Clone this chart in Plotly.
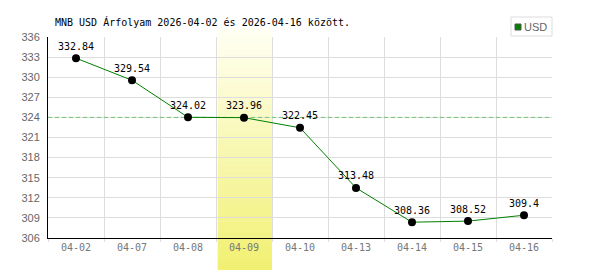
import plotly.graph_objects as go

dates = ["04-02", "04-07", "04-08", "04-09", "04-10", "04-13", "04-14", "04-15", "04-16"]
values = [332.84, 329.54, 324.02, 323.96, 322.45, 313.48, 308.36, 308.52, 309.4]
value_labels = ["332.84", "329.54", "324.02", "323.96", "322.45", "313.48", "308.36", "308.52", "309.4"]
reference_level = 324
highlight_date = "04-09"
y_ticks = list(range(306, 337, 3))
title_text = "MNB USD Árfolyam 2026-04-02 és 2026-04-16 között."
series_name = "USD"

W, H = 600, 270
ML, MR, MT, MB = 48, 48, 37, 32
plot_h = H - MT - MB

mono = "DejaVu Sans Mono"
sans = "Liberation Sans"

fig = go.Figure()

fig.add_trace(go.Scatter(
    x=dates, y=values, mode="lines+markers+text",
    line=dict(color="#008000", width=1),
    marker=dict(color="black", size=8),
    text=value_labels, textposition="top center",
    textfont=dict(family=mono, size=10, color="black"),
    cliponaxis=False, showlegend=False, name=series_name,
))

shapes = []
# reference dashed line (below the highlight band)
shapes.append(dict(type="line", xref="x", yref="y", x0=-0.5, x1=len(dates) - 0.5,
                   y0=reference_level, y1=reference_level,
                   line=dict(color="rgb(110,195,110)", width=1, dash="4px,3px"), layer="between"))

# highlight band with vertical gradient (strips)
hi = dates.index(highlight_date)
bx0, bx1 = hi - 0.47, hi + 0.50
ytop = 1 + (MT - 28) / plot_h
ybot = -(H - MT - plot_h) / plot_h - 0.01
n = 48
c_top = (255, 255, 244)
c_bot = (241, 240, 112)
for i in range(n):
    t0 = i / n
    t1 = (i + 1) / n
    tm = (i + 0.5) / n
    r = round(c_top[0] + (c_bot[0] - c_top[0]) * tm)
    g = round(c_top[1] + (c_bot[1] - c_top[1]) * tm)
    b = round(c_top[2] + (c_bot[2] - c_top[2]) * tm)
    y1 = ytop - (ytop - ybot) * t0
    y0 = ytop - (ytop - ybot) * t1 - 0.002
    shapes.append(dict(type="rect", xref="x", yref="paper", x0=bx0, x1=bx1, y0=y0, y1=y1,
                       fillcolor=f"rgb({r},{g},{b})", line=dict(width=0), layer="between"))

# legend box
shapes.append(dict(type="rect", xref="paper", yref="paper", xanchor=1, yanchor=1,
                   xsizemode="pixel", ysizemode="pixel", x0=-41, x1=0, y0=1, y1=20,
                   line=dict(color="#dddddd", width=1), fillcolor="white"))
shapes.append(dict(type="rect", xref="paper", yref="paper", xanchor=1, yanchor=1,
                   xsizemode="pixel", ysizemode="pixel", x0=-37, x1=-31, y0=7, y1=13,
                   line=dict(color="#555555", width=1), fillcolor="#008000"))

fig.update_layout(
    width=W, height=H,
    margin=dict(l=ML, r=MR, t=MT, b=MB, pad=0),
    paper_bgcolor="white", plot_bgcolor="white",
    shapes=shapes,
    showlegend=False,
    annotations=[
        dict(text=title_text, xref="paper", yref="paper", x=(53 - ML) / (W - ML - MR),
             y=1 + (MT - 22) / plot_h, xanchor="left", yanchor="middle", showarrow=False,
             font=dict(family=mono, size=10, color="black")),
        dict(text=series_name, xref="paper", yref="paper", x=1, y=1 + 10 / plot_h,
             xanchor="right", yanchor="middle", xshift=-3, showarrow=False,
             font=dict(family=sans, size=11, color="#666666")),
    ],
    xaxis=dict(
        type="category", range=[-0.5, len(dates) - 0.5], tickson="boundaries",
        showgrid=True, gridcolor="#dddddd", gridwidth=1,
        ticks="outside", ticklen=3, tickcolor="#dddddd",
        showline=True, linecolor="black", linewidth=1,
        tickfont=dict(family=mono, size=10, color="#777777"),
        fixedrange=True, zeroline=False, layer="below traces",
    ),
    yaxis=dict(
        range=[y_ticks[0], y_ticks[-1]], tickvals=y_ticks,
        showgrid=True, gridcolor="#dddddd", gridwidth=1,
        ticks="", showline=True, linecolor="black", linewidth=1,
        tickfont=dict(family=sans, size=11, color="#666666"),
        ticklabelstandoff=5, zeroline=False, fixedrange=True,
    ),
)

fig.write_html("out.html")
